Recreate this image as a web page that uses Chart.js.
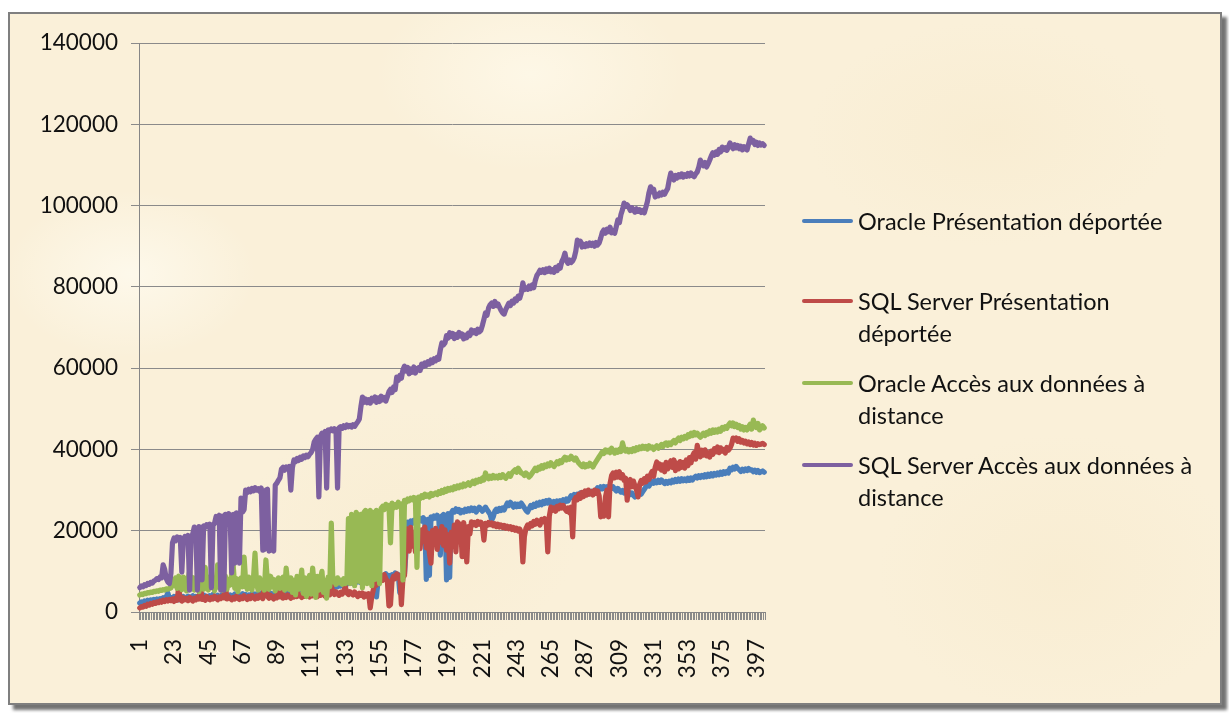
<!DOCTYPE html>
<html>
<head>
<meta charset="utf-8">
<script src="https://cdn.jsdelivr.net/npm/chart.js@4.4.1/dist/chart.umd.min.js"></script>
<style>
html,body{margin:0;padding:0;background:#ffffff;}
body{width:1229px;height:713px;position:relative;overflow:hidden;font-family:Lato,"Noto Sans",sans-serif;}
#frame{position:absolute;left:8px;top:12px;width:1210px;height:689px;border:2px solid #7f7f7f;
 background:
  radial-gradient(ellipse 180px 120px at 120px 260px, rgba(255,252,242,0.7), rgba(255,252,242,0) 70%),
  radial-gradient(ellipse 220px 140px at 520px 60px, rgba(255,250,236,0.7), rgba(255,250,236,0) 70%),
  radial-gradient(ellipse 260px 160px at 980px 120px, rgba(247,233,202,0.45), rgba(247,233,202,0) 70%),
  radial-gradient(ellipse 240px 180px at 400px 520px, rgba(247,233,202,0.4), rgba(247,233,202,0) 70%),
  radial-gradient(ellipse 260px 200px at 1050px 560px, rgba(247,233,202,0.45), rgba(247,233,202,0) 70%),
  #faf0d9;
 box-shadow:5px 5px 3px rgba(0,0,0,0.55);}
#c{position:absolute;left:0;top:0;}
.lg{position:absolute;left:802px;display:flex;align-items:flex-start;}
.lg .ln{width:51px;height:4px;border-radius:2px;margin-top:14px;margin-right:5px;}
.lg .tx{width:342px;font-size:23.5px;line-height:32px;color:#111;}
</style>
</head>
<body>
<div id="frame"></div>
<canvas id="c" width="1229" height="713"></canvas>
<div id="legend"></div>
<script>
const N = 402;
const categories = Array.from({length: N}, (_, i) => String(i + 1));
const tickLabels = ['1','23','45','67','89','111','133','155','177','199','221','243','265','287','309','331','353','375','397'];
const seriesNames = [
  'Oracle Présentation déportée',
  'SQL Server Présentation déportée',
  'Oracle Accès aux données à distance',
  'SQL Server Accès aux données à distance'
];

const oraclePresentation = [
2200,2500,2300,2700,2500,2900,2600,3000,2800,3100,
2900,3200,3000,3300,3100,3500,3200,3700,4700,3400,
3600,3200,3800,3400,3900,3000,3600,3300,3800,3100,
3500,3900,3200,3700,4000,3300,3800,3500,4100,3400,
3700,4200,3500,3900,3300,4000,3600,4300,3400,3800,
4100,3500,3900,4300,3600,4000,3400,3800,4200,3700,
4000,4400,3800,4200,3600,4100,4500,3900,4300,3700,
4200,3800,4600,4000,4400,3900,4300,4700,4100,4500,
4000,4400,4800,4200,4600,4100,4500,4900,4300,4700,
4400,4800,5400,4600,5800,5000,5400,4800,5600,5200,
5600,5000,5800,6200,5400,6000,5600,6400,5800,6200,
5600,6000,5400,6200,5800,6400,5900,6300,5700,6100,
5800,6200,6600,6000,6400,5900,6500,6200,6800,6400,
6600,7000,7400,6800,7600,7200,7800,7000,7500,8200,
7400,7900,7200,8400,7600,8000,7300,8600,7800,8200,
7500,8000,3700,7600,8800,8200,9000,8400,9400,8600,
9000,8300,9200,8600,9600,8800,9200,4700,8400,9000,
9400,15000,22100,21500,22400,21800,22600,22000,22800,22300,
23000,22400,23200,22600,8000,22800,9000,23400,22900,23600,
23100,23800,23300,14000,23600,24000,23500,7900,24200,8500,
24400,25000,24600,25400,24800,25200,24400,25000,24600,25300,
24800,25400,24900,25600,25000,25500,24600,25200,25800,25300,
24800,25300,25800,25200,24600,24000,22600,23400,24800,25300,
24800,25500,25000,25600,25100,26000,26800,26200,27000,26400,
25800,26600,25900,26500,26000,26800,26200,25600,25000,24600,
25400,26200,25700,26500,26000,26800,26300,27000,26400,27200,
26700,27400,26800,27500,27000,26500,27200,26600,27300,26800,
27400,26900,27600,27100,27800,27300,28000,28600,28200,28900,
28400,29000,28600,29300,28800,29400,28900,29500,29000,29200,
29700,29200,29800,30000,30600,30200,30800,30300,30900,30500,
30800,30300,30900,30400,30800,30200,29800,30400,29900,29500,
29900,29300,29700,29100,29500,28900,29300,28700,28300,28600,
28800,29300,29000,29600,30200,30800,31400,31000,31600,32200,
31700,32300,31800,32400,31900,32500,32000,31600,32100,31700,
32200,31800,32400,32000,32600,32100,32700,32200,32800,32300,
32700,32300,32900,32400,33000,32500,33100,33400,33000,33500,
33100,33600,33200,33800,33300,33900,33400,34000,33500,34100,
33700,34200,33800,34400,33900,34500,34100,34600,34200,35400,
35000,35600,35200,35800,35300,35000,34600,35100,34700,35200,
34800,35300,34900,35000,34500,34900,34400,34800,34300,34500,
34700,34400
];

const sqlPresentation = [
1000,1300,1200,1600,1400,1900,1700,2100,1900,2300,
2100,2500,2300,2700,2400,2900,2600,3000,2700,3100,
2800,3200,2600,3400,2900,6200,3100,2700,3500,3000,
3300,2800,3600,3100,2700,3400,3000,3700,3200,6400,
3100,3500,2900,3800,3300,3000,3600,3200,3900,3400,
3000,3700,3300,3900,3500,6600,3200,3800,3400,3000,
3600,3200,3900,3400,3100,3700,3300,4000,3500,3100,
3800,3300,4100,3600,3200,3900,3400,4200,3700,3300,
6600,6200,3800,3400,4100,3600,3200,3900,3500,6400,
3700,6200,3400,4000,3600,4200,3800,3400,4100,3700,
4300,3800,4500,4000,3600,4400,3900,4600,4100,3700,
4500,4000,4700,4200,3800,4600,4100,4800,4300,3900,
4600,6400,4200,6600,4800,4300,5000,4500,4100,4900,
4400,5200,6200,4700,4300,5000,4500,4200,4900,4400,
3800,4600,4100,4700,3700,4400,3900,4500,1000,3800,
5500,7200,6600,8000,7400,8600,7800,9200,8200,7600,
1500,1800,7800,8800,8200,9400,8600,9000,1800,8400,
9000,19700,20400,15000,20800,16200,19600,14800,20600,18400,
15600,20200,17400,20900,15800,19400,14500,12000,20000,16800,
20600,15400,19800,17200,21000,16400,20200,15200,19000,12000,
19600,16200,21400,14800,22200,17800,21600,13600,22000,18400,
12300,21000,19200,22200,21400,22000,21300,22300,21600,22100,
21200,17700,21800,21300,22000,21500,21900,21200,21700,21000,
21600,20900,21400,20800,21300,20600,21100,20500,21000,20300,
20800,20100,20600,19900,20400,19600,12300,18600,20600,21400,
20800,21800,21200,22300,21600,22600,22000,21400,22800,22200,
23000,22400,14800,23600,25800,25000,25600,24800,26000,25400,
26300,25600,26200,25400,24800,25600,24400,25800,18500,27500,
28200,27600,29000,28000,29400,28400,29800,28800,30000,29000,
29600,28800,30000,29200,29800,28600,23400,24000,23600,28200,
30000,23400,31600,33600,34200,33000,34400,33200,34500,33000,
33800,32400,32900,27500,31800,32600,30800,32200,31000,30000,
28300,31400,32400,31700,32800,32000,33400,32600,33800,34600,
33400,35600,36900,35400,36400,34900,36200,34500,36800,35200,
36400,37200,35600,37400,34800,36600,35200,37000,35600,36800,
35400,37400,36000,38000,36700,38400,39200,37600,41000,39400,
38200,39800,38600,39900,38400,39200,38100,39600,38800,40200,
39400,40600,39200,40400,39600,40000,39100,40500,39800,40300,
41200,42800,42400,42800,42000,42600,41800,42200,41600,42000,
41400,41800,41200,41700,41100,41500,41000,41400,41200,41300,
41500,41200
];

const oracleRemote = [
4200,4400,4300,4600,4500,4800,4700,4900,4800,5100,
5000,5200,5100,5400,5300,5500,5400,5700,5600,5800,
5900,8000,6500,8400,5800,8800,7000,5500,8600,7600,
5200,8200,10000,6000,8500,5400,7800,8800,5000,7600,
8400,5600,11000,7200,5400,8600,6800,8200,5200,7400,
11600,6000,8400,5400,7800,8800,5600,8000,6600,9200,
11500,5800,8200,5000,7600,8400,6200,13500,7400,5600,
8600,6400,5400,8200,14500,7000,5400,8400,6000,7800,
5400,12800,7200,5600,8800,6200,8000,5200,7600,8400,
5800,7400,8600,5400,10800,7000,5600,8400,4800,7800,
4200,8800,5600,7200,10300,4600,8400,3800,7600,9000,
4400,10800,6800,3600,8800,5400,8200,10000,4800,7800,
3400,8600,6200,21900,7400,8000,6800,8400,7200,7800,
6800,8200,7000,7800,23000,7000,24000,23000,6500,24500,
23500,7500,24000,6000,24500,25000,7000,24000,25000,6500,
24500,8000,25000,24000,7000,25500,26000,25200,26500,25800,
26200,17000,26800,25600,26400,25800,27000,26200,26600,7900,
27500,27000,27800,27400,28000,27600,28200,27800,11000,28300,
27900,28600,28200,29000,28500,28800,28300,29200,28700,29000,
29300,28900,29600,29200,29900,29400,30200,29700,30400,30000,
30500,30100,30800,30400,31000,30600,31200,30800,31500,31000,
31400,31800,31200,31700,32200,31600,32400,32000,32600,32200,
33000,32500,34200,33200,32800,33400,32900,33600,33000,33400,
33000,33600,33100,33800,33300,32900,33500,34000,33400,34200,
34600,35000,34400,35400,34800,34200,34000,33600,34200,33800,
33200,33600,34200,34800,35400,34800,35600,35200,36000,35400,
36200,35800,36400,36000,36700,36200,35800,36400,37000,36500,
37200,36800,37600,38100,37400,37900,37600,38300,37800,37400,
37900,37200,36600,36200,35800,36400,35700,36200,35900,36600,
36200,35700,36400,37000,37600,38200,38800,39400,39000,39900,
39400,39800,39200,40300,39600,39100,39800,39300,40000,39500,
41600,40200,39600,40000,39400,39900,39500,40200,39700,40400,
40000,40600,40200,40800,40300,40700,40100,40900,40400,40600,
40000,40500,40900,40300,40800,41200,40700,41400,41600,41000,
41600,41200,41800,42200,41600,42400,42800,42200,43000,42600,
43200,42800,43600,43200,44000,43400,44200,43600,44000,43400,
43000,43600,44000,43400,44200,43800,44600,44000,44800,44200,
44800,44300,45000,44500,45400,45000,45600,45200,46000,46500,
45800,46500,45600,46200,45400,45900,45000,45600,44800,45400,
44800,45600,46200,45000,47200,46000,45400,46400,44800,45200,
45800,45300
];

const sqlRemote = [
6000,6400,6200,6700,6500,7000,6800,7300,7100,7600,
7800,8200,8000,8600,8400,11600,10500,8200,7400,7000,
9500,17000,18200,17500,18500,17800,18300,9800,17900,18600,
18100,18800,5400,18500,19200,20900,20400,5400,21000,20600,
7900,21200,20800,21500,21000,21600,6000,21300,21800,23500,
23000,23800,5400,23600,5400,24000,23400,24200,23800,9600,
24000,12000,24400,23900,12000,28000,24600,25200,30000,29400,
30200,29600,30400,29800,30600,30000,30300,29700,30500,15200,
15400,30000,30200,15000,15200,15500,15000,31200,31700,32400,
33000,35200,35600,34900,35700,35300,35800,30000,35500,37400,
37000,37800,37300,38100,37600,38400,38000,38600,38200,38800,
39200,40000,41800,42500,43000,28300,43200,44000,43600,44400,
30500,44800,44500,45000,44600,45100,44800,30500,45300,45600,
45200,45800,45400,46000,45600,45900,45500,46100,45700,46300,
46800,47500,50500,52900,51600,52400,51500,52200,51400,52600,
52000,52900,51600,52700,51800,53100,52200,52800,51900,53000,
54200,54800,54000,55400,54700,57800,57000,58200,57500,59600,
60500,59300,60200,58600,59800,59000,60300,58800,59700,60100,
59400,61000,60400,61300,60700,61600,61000,62000,61400,62300,
61800,62700,62200,64500,66200,65700,66200,68000,67400,68700,
67800,68500,67300,68200,67600,68800,67900,68400,67200,68100,
67500,68600,68000,69400,68700,69200,68500,69600,68900,69300,
70500,72000,73600,73000,74800,75600,76000,75200,76400,75400,
75800,75000,74200,73600,73300,74400,75200,76000,75400,76500,
76000,77000,76600,77700,77200,78500,81000,79300,79800,79400,
80200,79600,80500,79800,81600,82800,83400,84100,83600,84200,
83500,84400,83800,84600,83700,84200,83600,84800,84000,85200,
84600,86200,87000,88300,86400,85800,86600,86000,86400,87200,
88800,91500,90800,91200,89800,90500,89900,90600,90100,90800,
90200,90700,90000,90900,90300,90800,92000,93400,94000,93200,
94200,93600,94700,93300,93800,93200,94800,96500,95800,97800,
99000,100600,99800,100200,99600,98800,99500,98900,98400,99200,
98600,99000,98300,98800,98200,99600,101000,103200,104600,103400,
104000,102100,102800,102400,103100,102600,103300,102800,103500,104200,
106300,108000,107000,106300,107400,106800,107600,107100,107800,107000,
107600,107200,107900,107300,108000,107400,107100,107800,108300,109500,
111200,110400,109800,110600,109500,110300,111200,112200,113000,112400,
113200,112600,113800,113200,114400,113800,114200,113600,114400,115400,
114600,114000,115000,114200,114800,114000,114600,113700,114500,114000,
113700,115200,116600,115600,116000,115000,115600,114800,115400,114900,
115200,114800
];

const seriesValues = [oraclePresentation, sqlPresentation, oracleRemote, sqlRemote];
const seriesColors = ['#4a7ebb', '#be4b48', '#98b954', '#7d60a0'];
const legendCenters = [221, 301, 383, 465];

const datasets = seriesValues.map((vals, k) => ({
  label: seriesNames[k],
  data: vals,
  borderColor: seriesColors[k],
  backgroundColor: seriesColors[k],
  borderWidth: 5.2,
  pointRadius: 0,
  pointHoverRadius: 0,
  tension: 0,
  fill: false,
  borderCapStyle: 'round',
  borderJoinStyle: 'round',
  order: 3 - k
}));

const chart = new Chart(document.getElementById('c'), {
  type: 'line',
  data: { labels: categories, datasets: datasets },
  options: {
    responsive: false,
    animation: false,
    events: [],
    layout: { padding: { left: 0, top: 43, right: 464, bottom: 0 } },
    plugins: { legend: { display: false }, tooltip: { enabled: false }, title: { display: false } },
    scales: {
      x: {
        type: 'category',
        offset: true,
        afterFit: (s) => { s.height = 101; },
        grid: { display: true, offset: true, drawOnChartArea: false, drawTicks: true, tickLength: 8, color: '#8a8a8a', lineWidth: 1 },
        border: { display: true, color: '#868686', width: 1 },
        ticks: {
          autoSkip: false,
          minRotation: 90,
          maxRotation: 90,
          padding: 19,
          color: '#111',
          font: { family: 'Lato', size: 22.5 },
          callback: function(value, index) {
            const lab = categories[index];
            return tickLabels.includes(lab) ? lab : '';
          }
        }
      },
      y: {
        min: 0,
        max: 140000,
        afterFit: (s) => { s.width = 139; },
        grid: { color: '#8a8a8a', lineWidth: 1, tickLength: 8, drawTicks: true },
        border: { display: true, color: '#868686', width: 1 },
        ticks: {
          stepSize: 20000,
          padding: 13,
          color: '#111',
          font: { family: 'Lato', size: 22.5 },
          callback: (v) => String(v)
        }
      }
    }
  }
});

const legend = document.getElementById('legend');
seriesNames.forEach((name, k) => {
  const item = document.createElement('div');
  item.className = 'lg';
  item.style.top = (legendCenters[k] - 16) + 'px';
  const ln = document.createElement('div');
  ln.className = 'ln';
  ln.style.background = seriesColors[k];
  const tx = document.createElement('div');
  tx.className = 'tx';
  tx.textContent = name;
  item.appendChild(ln);
  item.appendChild(tx);
  legend.appendChild(item);
});
</script>
</body>
</html>
